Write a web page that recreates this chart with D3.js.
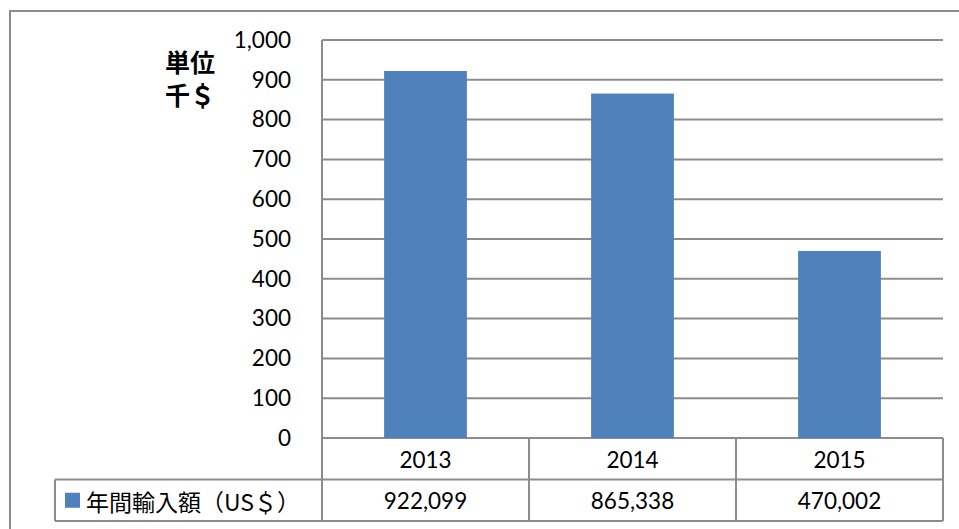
<!DOCTYPE html>
<html><head><meta charset="utf-8">
<script src="https://cdn.jsdelivr.net/npm/d3@7/dist/d3.min.js"></script>
<style>body{margin:0;background:#fff}svg{display:block}</style>
</head><body>
<script>
const categories = ["2013", "2014", "2015"];
const values = [922099, 865338, 470002];
const yTicks = [0, 100, 200, 300, 400, 500, 600, 700, 800, 900, 1000];
const seriesName = "年間輸入額（US＄）";
const unitLabel = ["単位", "千＄"];

(function () {
const W = 959, H = 529;
const svg = d3.select("body").append("svg").attr("width", W).attr("height", H);
const pL = 322, pR = 943, pT = 40, pB = 438;
const rowH = 41.5;
const grid = "#8c8c8c";
const fontNum = "Lato, 'Liberation Sans', sans-serif";
const fontCJK = "'Noto Sans CJK JP', sans-serif";
const numSize = 22.5;

// outer border
svg.append("rect").attr("x", 10).attr("y", 11).attr("width", 960).attr("height", 540)
  .attr("fill", "none").attr("stroke", "#8c8c8c").attr("stroke-width", 2);

const x = d3.scaleBand().domain(categories).range([pL, pR]).paddingInner(0).paddingOuter(0);
const y = d3.scaleLinear().domain([0, 1000]).range([pB, pT]);

// gridlines
svg.append("g").selectAll("line").data(yTicks).join("line")
  .attr("x1", pL).attr("x2", pR)
  .attr("y1", d => y(d)).attr("y2", d => y(d))
  .attr("stroke", grid).attr("stroke-width", 2);

// y axis labels via d3 axis
const yAxis = d3.axisLeft(y).tickValues(yTicks).tickFormat(d3.format(",")).tickSize(0).tickPadding(31);
const gy = svg.append("g").attr("transform", `translate(${pL},0)`).call(yAxis);
gy.select(".domain").remove();
gy.selectAll("text").attr("font-family", fontNum).attr("font-size", numSize).attr("fill", "#000");

// bars
const bw = x.bandwidth() * 0.4;
svg.append("g").selectAll("rect").data(values).join("rect")
  .attr("x", (d, i) => x(categories[i]) + (x.bandwidth() - bw) / 2)
  .attr("width", bw)
  .attr("y", d => y(d / 1000))
  .attr("height", d => y(0) - y(d / 1000))
  .attr("fill", "#4f81bd");

// vertical axis line
svg.append("line").attr("x1", pL).attr("x2", pL).attr("y1", pT).attr("y2", pB + 2 * rowH)
  .attr("stroke", grid).attr("stroke-width", 2);

// data table
const tb = svg.append("g");
tb.append("line").attr("x1", 55).attr("x2", pR).attr("y1", pB + rowH).attr("y2", pB + rowH).attr("stroke", grid).attr("stroke-width", 2);
tb.append("line").attr("x1", 55).attr("x2", pR).attr("y1", pB + 2 * rowH).attr("y2", pB + 2 * rowH).attr("stroke", grid).attr("stroke-width", 2);
tb.append("line").attr("x1", 55).attr("x2", 55).attr("y1", pB + rowH).attr("y2", pB + 2 * rowH).attr("stroke", grid).attr("stroke-width", 2);
tb.selectAll("line.v").data(categories).join("line").attr("class", "v")
  .attr("x1", d => x(d) + x.bandwidth()).attr("x2", d => x(d) + x.bandwidth())
  .attr("y1", pB).attr("y2", pB + 2 * rowH).attr("stroke", grid).attr("stroke-width", 2);

tb.selectAll("text.cat").data(categories).join("text").attr("class", "cat")
  .attr("x", d => x(d) + x.bandwidth() / 2).attr("y", pB + rowH / 2 + 0.5)
  .attr("text-anchor", "middle").attr("dominant-baseline", "central")
  .attr("font-family", fontNum).attr("font-size", numSize).text(d => d);
tb.selectAll("text.val").data(values).join("text").attr("class", "val")
  .attr("x", (d, i) => x(categories[i]) + x.bandwidth() / 2).attr("y", pB + rowH * 1.5 + 0.5)
  .attr("text-anchor", "middle").attr("dominant-baseline", "central")
  .attr("font-family", fontNum).attr("font-size", numSize).text(d => d3.format(",")(d));

// legend key
tb.append("rect").attr("x", 65).attr("y", pB + rowH * 1.5 - 7.5).attr("width", 15).attr("height", 15).attr("fill", "#4f81bd");
tb.append("text").attr("x", 86).attr("y", pB + rowH * 1.5 + 1)
  .attr("dominant-baseline", "central").attr("font-family", fontCJK).attr("font-size", 23)
  .text(seriesName);

// unit label
svg.append("g").selectAll("text").data(unitLabel).join("text")
  .attr("x", 165).attr("y", (d, i) => 72 + i * 33)
  .attr("font-family", fontCJK).attr("font-weight", "bold").attr("font-size", 25)
  .text(d => d);
})();
</script>
</body></html>
